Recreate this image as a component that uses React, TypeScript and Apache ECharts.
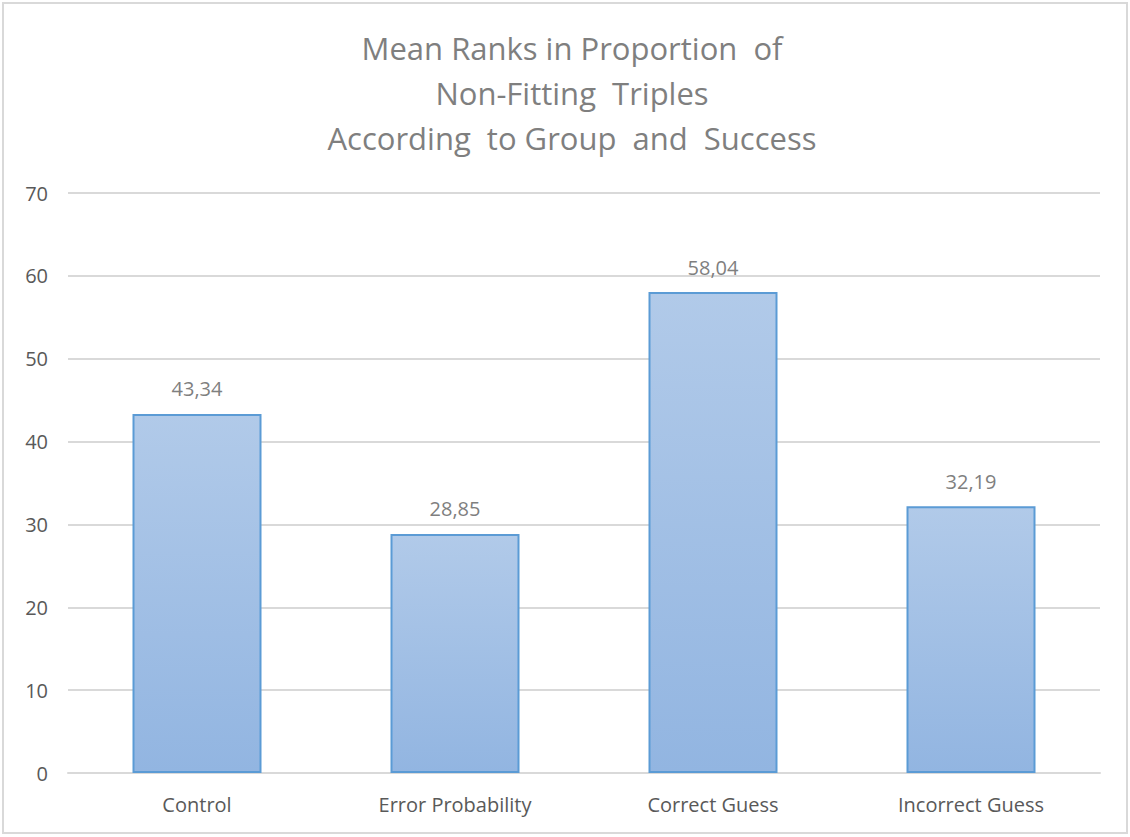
import React, { useEffect, useRef } from "react";
import * as echarts from "echarts";

const categories = ["Control", "Error Probability", "Correct Guess", "Incorrect Guess"];
const meanRanks = [43.34, 28.85, 58.04, 32.19];
const titleLines = ["Mean Ranks in Proportion  of", "Non-Fitting  Triples", "According  to Group  and  Success"];
const yMin = 0;
const yMax = 70;
const yInterval = 10;

const FONT = "'Open Sans', Lato, sans-serif";

export default function App() {
  const ref = useRef<HTMLDivElement>(null);
  useEffect(() => {
    if (!ref.current) return;
    const chart = echarts.init(ref.current, undefined, { renderer: "svg" });
    chart.setOption({
      animation: false,
      backgroundColor: "#ffffff",
      title: {
        text: titleLines.join("\n"),
        left: 567,
        textAlign: "center",
        top: 20,
        textStyle: {
          fontFamily: FONT,
          fontSize: 31,
          fontWeight: "normal",
          color: "#7f7f7f",
          lineHeight: 45,
        },
      },
      graphic: [
        {
          type: "rect",
          shape: { x: 3, y: 3, width: 1124, height: 830 },
          style: { fill: "none", stroke: "#d9d9d9", lineWidth: 2 },
          silent: true,
        },
      ],
      grid: { left: 68, right: 30, top: 193, bottom: 64, containLabel: false },
      xAxis: {
        type: "category",
        data: categories,
        axisLine: { show: true, lineStyle: { color: "#d9d9d9", width: 2 } },
        axisTick: { show: false },
        axisLabel: {
          fontFamily: FONT,
          fontSize: 20,
          color: "#595959",
          margin: 21,
        },
      },
      yAxis: {
        type: "value",
        min: yMin,
        max: yMax,
        interval: yInterval,
        axisLine: { show: false },
        axisTick: { show: false },
        splitLine: { lineStyle: { color: "#d9d9d9", width: 2 } },
        axisLabel: {
          fontFamily: FONT,
          fontSize: 20,
          color: "#595959",
          margin: 20,
        },
      },
      series: [
        {
          type: "bar",
          data: meanRanks,
          barWidth: "50%",
          itemStyle: {
            color: new echarts.graphic.LinearGradient(0, 0, 0, 1, [
              { offset: 0, color: "#b1cae9" },
              { offset: 1, color: "#92b5e1" },
            ]),
            borderColor: "#5b9bd5",
            borderWidth: 2,
          },
          label: {
            show: true,
            position: "top",
            distance: 15,
            fontFamily: FONT,
            fontSize: 20,
            color: "#7f7f7f",
            formatter: (p: any) => p.value.toFixed(2).replace(".", ","),
          },
        },
      ],
    });
    return () => chart.dispose();
  }, []);
  return (
    <div
      ref={ref}
      style={{ position: "fixed", left: 0, top: 0, width: 1130, height: 837 }}
    />
  );
}
